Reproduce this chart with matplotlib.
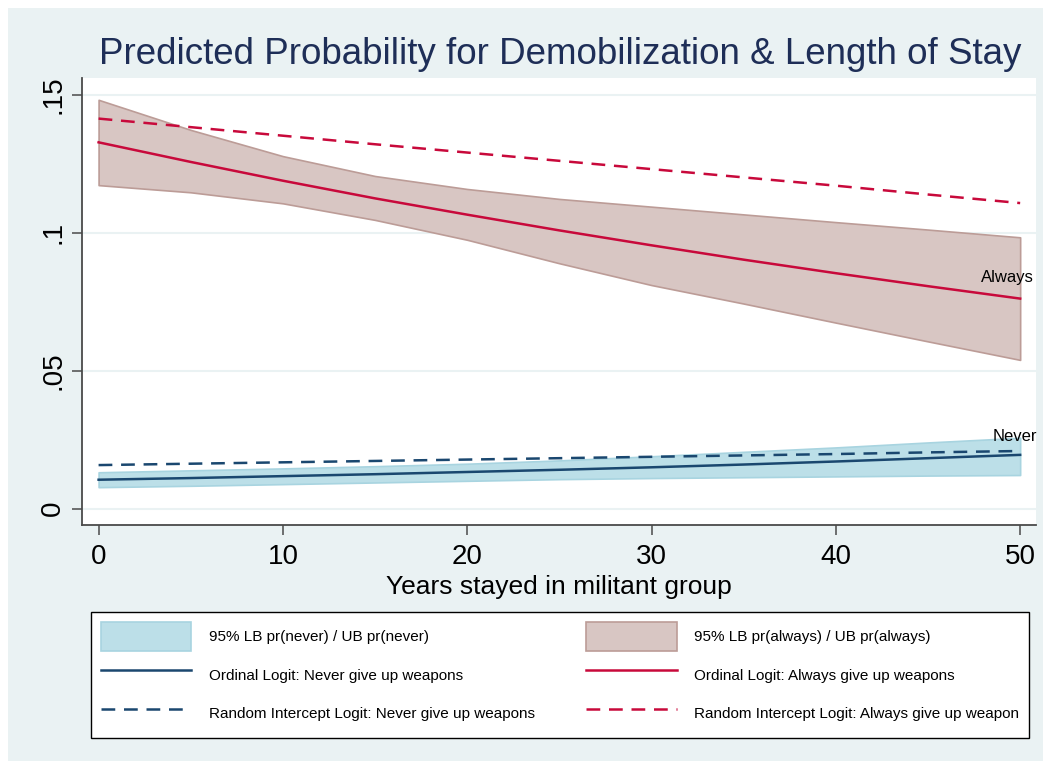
import matplotlib
matplotlib.use("Agg")
import matplotlib.pyplot as plt
from matplotlib.patches import Patch
from matplotlib.lines import Line2D

plt.rcParams['font.family'] = ['Liberation Sans', 'DejaVu Sans']

# Years stayed in militant group
years = [0, 5, 10, 15, 20, 25, 30, 35, 40, 45, 50]

# "Never give up weapons" predictions
never_lb = [0.0078, 0.0083, 0.0089, 0.0095, 0.0101, 0.0107, 0.0111, 0.0114, 0.0117, 0.0120, 0.0122]
never_ub = [0.0132, 0.0139, 0.0146, 0.0154, 0.0163, 0.0175, 0.0190, 0.0206, 0.0222, 0.0240, 0.0257]
never_ologit = [0.0105, 0.0111, 0.0118, 0.0125, 0.0133, 0.0141, 0.0150, 0.0160, 0.0171, 0.0183, 0.0195]
never_rilogit = [0.0158, 0.0163, 0.0168, 0.0173, 0.0178, 0.0183, 0.0188, 0.0193, 0.0198, 0.0204, 0.0209]

# "Always give up weapons" predictions
always_lb = [0.1172, 0.1146, 0.1106, 0.1046, 0.0974, 0.0889, 0.0810, 0.0743, 0.0674, 0.0606, 0.0539]
always_ub = [0.1481, 0.1372, 0.1277, 0.1205, 0.1158, 0.1122, 0.1094, 0.1066, 0.1038, 0.1011, 0.0983]
always_ologit = [0.1327, 0.1256, 0.1188, 0.1124, 0.1065, 0.1008, 0.0954, 0.0902, 0.0853, 0.0806, 0.0761]
always_rilogit = [0.1413, 0.1382, 0.1351, 0.1320, 0.1290, 0.1260, 0.1230, 0.1200, 0.1170, 0.1138, 0.1107]

x_ticks = [0, 10, 20, 30, 40, 50]
y_ticks = [0, 0.05, 0.10, 0.15]
y_tick_labels = ["0", ".05", ".1", ".15"]

legend_labels = [
    "95% LB pr(never) / UB pr(never)",
    "Ordinal Logit: Never give up weapons",
    "Random Intercept Logit: Never give up weapons",
    "95% LB pr(always) / UB pr(always)",
    "Ordinal Logit: Always give up weapons",
    "Random Intercept Logit: Always give up weapon",
]

BG = "#EAF2F3"
NAVY = "#1A476F"
RED = "#C8093B"
NEVER_FILL = "#BCDFE8"
NEVER_EDGE = "#A8D4E0"
ALWAYS_FILL = "#D8C6C3"
ALWAYS_EDGE = "#BC9C97"
DASH = (0, (5.5, 3.5))

fig = plt.figure(figsize=(10.51, 7.69), dpi=100)
fig.patch.set_facecolor("white")
# light panel behind everything
fig.patches.append(plt.Rectangle((8 / 1051, 8 / 769), 1 - 16 / 1051, 1 - 16 / 769,
                                 transform=fig.transFigure, facecolor=BG,
                                 edgecolor="none", zorder=-10))

ax = fig.add_axes([82 / 1051, 1 - 525 / 769, (1036 - 82) / 1051, (525 - 78) / 769])
ax.set_facecolor("white")

ax.fill_between(years, never_lb, never_ub, facecolor=NEVER_FILL, edgecolor=NEVER_EDGE,
                linewidth=1.2, zorder=2)
ax.fill_between(years, always_lb, always_ub, facecolor=ALWAYS_FILL, edgecolor=ALWAYS_EDGE,
                linewidth=1.2, zorder=2)
ax.plot(years, never_ologit, color=NAVY, lw=1.8, zorder=3)
ax.plot(years, always_ologit, color=RED, lw=1.8, zorder=3)
ax.plot(years, never_rilogit, color=NAVY, lw=1.8, ls=DASH, zorder=3)
ax.plot(years, always_rilogit, color=RED, lw=1.8, ls=DASH, zorder=3)

ax.text(49.3, 0.0837, "Always", ha="center", va="center", fontsize=12, color="black", zorder=4)
ax.text(49.7, 0.0263, "Never", ha="center", va="center", fontsize=12, color="black", zorder=4)

ax.set_xlim(-0.9, 50.86)
ax.set_ylim(-0.0059, 0.156)
ax.set_xticks(x_ticks)
ax.set_xticklabels([str(t) for t in x_ticks])
ax.set_yticks(y_ticks)
ax.set_yticklabels(y_tick_labels, rotation=90, va="center")
ax.grid(axis="y", color=BG, lw=1.5, zorder=0)
ax.set_axisbelow(True)

for side in ("top", "right"):
    ax.spines[side].set_visible(False)
for side in ("left", "bottom"):
    ax.spines[side].set_color("#4a4a4a")
    ax.spines[side].set_linewidth(1.3)
ax.tick_params(axis="both", direction="out", length=7.5, width=1.1, color="#4a4a4a",
               labelsize=20, labelcolor="black", pad=6)
ax.tick_params(axis="y", pad=4)

ax.set_xlabel("Years stayed in militant group", fontsize=19, color="black", labelpad=4)

fig.text(560 / 1051, 1 - 54 / 769, "Predicted Probability for Demobilization & Length of Stay",
         ha="center", va="center", fontsize=26.5, color="#1E2E57")

handles = [
    Patch(facecolor=NEVER_FILL, edgecolor=NEVER_EDGE, linewidth=1.2),
    Line2D([], [], color=NAVY, lw=1.8),
    Line2D([], [], color=NAVY, lw=1.8, ls=DASH),
    Patch(facecolor=ALWAYS_FILL, edgecolor=ALWAYS_EDGE, linewidth=1.2),
    Line2D([], [], color=RED, lw=1.8),
    Line2D([], [], color=RED, lw=1.8, ls=DASH),
]
leg = fig.legend(handles, legend_labels, ncol=2, loc="center",
                 bbox_to_anchor=(91 / 1051, 1 - 737 / 769, (1029 - 91) / 1051, 124 / 769),
                 mode="expand", fontsize=11, frameon=True, fancybox=False, framealpha=1.0,
                 handlelength=5.9, handleheight=2.5, handletextpad=1.15,
                 labelspacing=0.65, borderpad=0.65, borderaxespad=0)
leg.get_frame().set_edgecolor("black")
leg.get_frame().set_linewidth(1.0)
leg.get_frame().set_facecolor("white")

fig.savefig("out.png", dpi=100, facecolor=fig.get_facecolor())
